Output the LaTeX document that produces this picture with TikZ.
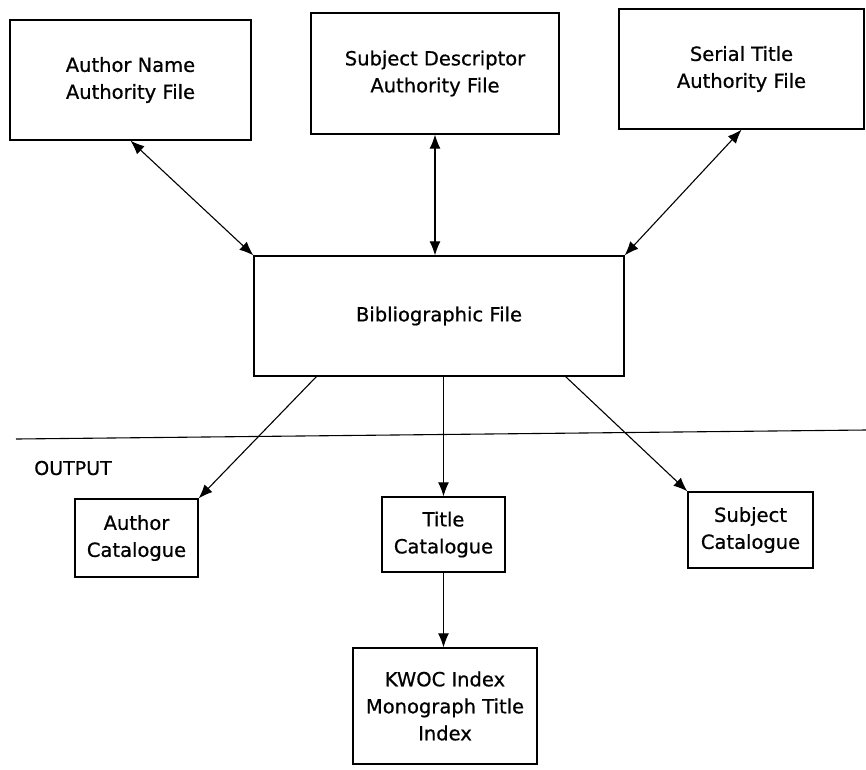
\documentclass[tikz,border=0pt]{standalone}
\usepackage{fontspec}
\setmainfont[FakeBold=0.7]{DejaVu Sans}
\usepackage{tikz}
\usetikzlibrary{arrows.meta}

\begin{document}
\begin{tikzpicture}[x=1pt, y=-1pt,  % pixel-like units, y going down
    filebox/.style={draw, line width=1.3pt, align=center, inner sep=0pt,
        font=\fontsize{19.5}{27}\selectfont},
    link/.style={line width=1.1pt, -{Latex[length=14pt,width=11pt]}},
    bilink/.style={line width=1.1pt, {Latex[length=14pt,width=11pt]}-{Latex[length=14pt,width=11pt]}}]
    \useasboundingbox (0,0) rectangle (866,769);

    % Authority files along the top
    \node[filebox, minimum width=241pt, minimum height=120pt] (authname) at (130.5,80) {Author Name\\Authority File};
    \node[filebox, minimum width=248pt, minimum height=121pt] (subjdesc) at (435,73.5) {Subject Descriptor\\Authority File};
    \node[filebox, minimum width=245pt, minimum height=120pt] (serial) at (741.5,69) {Serial Title\\Authority File};

    % Central file
    \node[filebox, minimum width=370pt, minimum height=120pt] (biblio) at (439,316) {Bibliographic File};

    % Separator line and its label
    \coordinate (sepL) at (16,439);
    \coordinate (sepR) at (866,430);
    \draw[line width=1.1pt] (sepL) -- (sepR);
    \node[font=\fontsize{19}{24}\selectfont] (output) at (73,468) {OUTPUT};

    % Output products
    \node[filebox, minimum width=123pt, minimum height=78pt] (authcat) at (136.5,538) {Author\\Catalogue};
    \node[filebox, minimum width=123pt, minimum height=75pt] (titlecat) at (443.5,534.5) {Title\\Catalogue};
    \node[filebox, minimum width=125pt, minimum height=76pt] (subjcat) at (750.5,530) {Subject\\Catalogue};
    \node[filebox, minimum width=184pt, minimum height=116pt] (kwoc) at (445,706) {KWOC Index\\Monograph Title\\Index};

    % Two-way links between authority files and the central file
    \draw[bilink] (authname.south) -- (biblio.north west);
    \draw[bilink] (subjdesc.south) -- (subjdesc.south |- biblio.north);
    \draw[bilink] (serial.south) -- (biblio.north east);

    % Outputs from the central file
    \draw[link] ([xshift=63pt]biblio.south west) -- (authcat.north east);
    \draw[link] (titlecat.north |- biblio.south) -- (titlecat.north);
    \draw[link] ([xshift=-59pt]biblio.south east) -- (subjcat.north west);
    \draw[link] (titlecat.south) -- (titlecat.south |- kwoc.north);
\end{tikzpicture}
\end{document}
